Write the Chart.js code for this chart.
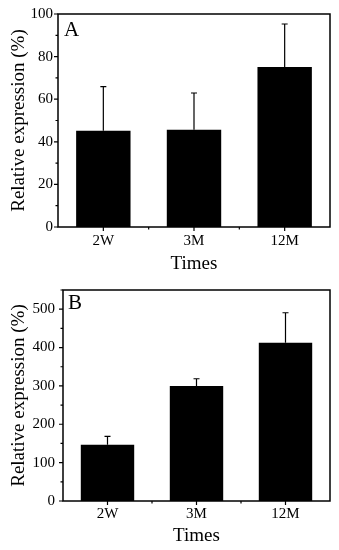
<!DOCTYPE html>
<html>
<head>
<meta charset="utf-8">
<script src="https://cdn.jsdelivr.net/npm/chart.js@4"></script>
<style>
  html, body { margin: 0; padding: 0; background: #fff; }
  body { width: 339px; height: 550px; position: relative; overflow: hidden; }
  canvas { position: absolute; left: 0; }
  #cA { top: 0; }
  #cB { top: 270px; }
</style>
</head>
<body>
<canvas id="cA" width="339" height="280"></canvas>
<canvas id="cB" width="339" height="280"></canvas>
<script>
const categories = ['2W', '3M', '12M'];
const valuesA = [45.2, 45.6, 75.1];
const errorsA = [20.7, 17.3, 20.2];
const valuesB = [146.5, 299.8, 412.3];
const errorsB = [22.1, 18.8, 78.4];
const yTicksA = { min: 0, max: 100, step: 20 };
const yTicksB = { min: 0, max: 550, step: 100 };

const FONT = "'Liberation Serif', 'Times New Roman', serif";

function framePlugin(errors, letter, letterDx, letterDy, minorStep) {
  return {
    id: 'frame' + letter,
    afterDatasetsDraw(chart) {
      const ctx = chart.ctx;
      const a = chart.chartArea;
      const ys = chart.scales.y, xs = chart.scales.x;
      ctx.save();
      // error bars
      const meta = chart.getDatasetMeta(0);
      const vals = chart.data.datasets[0].data;
      ctx.strokeStyle = '#000';
      ctx.lineWidth = 1.2;
      meta.data.forEach((bar, i) => {
        const yTop = ys.getPixelForValue(vals[i] + errors[i]);
        ctx.beginPath();
        ctx.moveTo(bar.x, bar.y);
        ctx.lineTo(bar.x, yTop);
        ctx.moveTo(bar.x - 3, yTop);
        ctx.lineTo(bar.x + 3, yTop);
        ctx.stroke();
      });
      // frame
      ctx.lineWidth = 1.5;
      ctx.strokeRect(a.left, a.top, a.right - a.left, a.bottom - a.top);
      // y ticks
      ctx.lineWidth = 1.2;
      ctx.beginPath();
      for (let v = ys.min; v <= ys.max + 1e-9; v += minorStep) {
        const p = ys.getPixelForValue(v);
        const major = Math.abs((v / (minorStep * 2)) - Math.round(v / (minorStep * 2))) < 1e-6;
        const len = major ? 4 : 2.5;
        ctx.moveTo(a.left - len, p);
        ctx.lineTo(a.left, p);
      }
      // x ticks
      const n = chart.data.labels.length;
      for (let i = 0; i < n; i++) {
        const p = xs.getPixelForValue(i);
        ctx.moveTo(p, a.bottom);
        ctx.lineTo(p, a.bottom + 4);
        if (i < n - 1) {
          const q = (p + xs.getPixelForValue(i + 1)) / 2;
          ctx.moveTo(q, a.bottom);
          ctx.lineTo(q, a.bottom + 2.5);
        }
      }
      ctx.stroke();
      // panel letter
      ctx.fillStyle = '#000';
      ctx.font = '21px ' + FONT;
      ctx.textBaseline = 'alphabetic';
      ctx.textAlign = 'left';
      ctx.fillText(letter, a.left + letterDx, a.top + letterDy);
      ctx.restore();
    }
  };
}

function makeChart(id, values, errors, yt, opts) {
  return new Chart(document.getElementById(id), {
    type: 'bar',
    data: {
      labels: categories,
      datasets: [{
        data: values,
        backgroundColor: '#000',
        borderWidth: 0,
        categoryPercentage: 1,
        barPercentage: 0.6
      }]
    },
    options: {
      responsive: false,
      animation: false,
      events: [],
      layout: { padding: { top: opts.top, right: 9, left: 0, bottom: opts.bottom } },
      plugins: { legend: { display: false }, tooltip: { enabled: false } },
      scales: {
        x: {
          grid: { display: false, drawTicks: false },
          border: { display: false },
          ticks: { color: '#000', padding: opts.xPad, font: { family: FONT, size: 15 } },
          title: { display: true, text: 'Times', color: '#000', padding: { top: 0, bottom: 0 },
                   font: { family: FONT, size: 19, lineHeight: 1.0 } }
        },
        y: {
          min: yt.min, max: yt.max,
          afterBuildTicks(scale) {
            scale.ticks = scale.ticks.filter(t => t.value % yt.step === 0);
          },
          afterFit(scale) { scale.width = opts.yWidth; },
          grid: { display: false, drawTicks: false },
          border: { display: false },
          ticks: { color: '#000', padding: opts.yPad, stepSize: yt.step, font: { family: FONT, size: 15 } },
          title: { display: true, text: 'Relative expression (%)', color: '#000', padding: { top: 9.5, bottom: 0 },
                   font: { family: FONT, size: 19, lineHeight: 1.0 } }
        }
      }
    },
    plugins: [framePlugin(errors, opts.letter, opts.ldx, opts.ldy, yt.step / 2)]
  });
}

makeChart('cA', valuesA, errorsA, yTicksA,
  { top: 11, bottom: 6, xPad: 5, yPad: 5, yWidth: 58, letter: 'A', ldx: 6, ldy: 22 });
makeChart('cB', valuesB, errorsB, yTicksB,
  { top: 20, bottom: 4, xPad: 4, yPad: 8, yWidth: 63, letter: 'B', ldx: 5, ldy: 19 });
</script>
</body>
</html>
